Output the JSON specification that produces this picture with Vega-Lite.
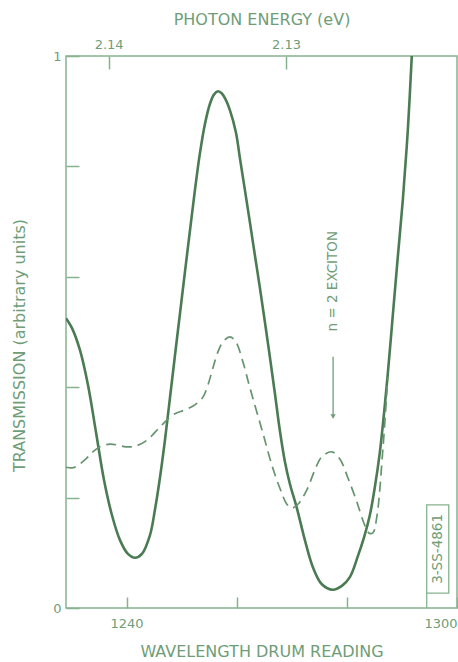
{
  "$schema": "https://vega.github.io/schema/vega-lite/v6.json",
  "width": 391,
  "height": 552,
  "autosize": {"type": "none"},
  "padding": {"left": 66, "top": 56, "right": 1, "bottom": 54},
  "background": "white",
  "config": {
    "view": {"stroke": "#86b38f", "strokeWidth": 1.5},
    "font": "DejaVu Sans",
    "axis": {
      "domain": false, "grid": false,
      "labelColor": "#6f9d78", "titleColor": "#6f9d78",
      "tickColor": "#86b38f", "tickWidth": 1.5,
      "labelFont": "DejaVu Sans", "titleFont": "DejaVu Sans",
      "labelFontSize": 13, "titleFontSize": 16, "titleFontWeight": "normal"
    }
  },
  "datasets": {
    "solid": [
      {"drum": 1229.0, "t": 0.525}, {"drum": 1230.09, "t": 0.507}, {"drum": 1231.54, "t": 0.467},
      {"drum": 1232.99, "t": 0.404}, {"drum": 1234.44, "t": 0.319}, {"drum": 1235.9, "t": 0.232},
      {"drum": 1237.35, "t": 0.168}, {"drum": 1238.8, "t": 0.123}, {"drum": 1240.25, "t": 0.098},
      {"drum": 1241.52, "t": 0.091}, {"drum": 1242.79, "t": 0.098}, {"drum": 1244.25, "t": 0.132},
      {"drum": 1245.15, "t": 0.178}, {"drum": 1246.06, "t": 0.236}, {"drum": 1246.97, "t": 0.304},
      {"drum": 1247.87, "t": 0.38}, {"drum": 1248.78, "t": 0.457}, {"drum": 1249.69, "t": 0.533},
      {"drum": 1250.6, "t": 0.609}, {"drum": 1251.5, "t": 0.683}, {"drum": 1252.41, "t": 0.757},
      {"drum": 1253.32, "t": 0.824}, {"drum": 1254.23, "t": 0.877}, {"drum": 1255.13, "t": 0.913},
      {"drum": 1255.86, "t": 0.93}, {"drum": 1256.59, "t": 0.936}, {"drum": 1257.31, "t": 0.932},
      {"drum": 1258.04, "t": 0.92}, {"drum": 1258.76, "t": 0.902}, {"drum": 1259.85, "t": 0.862},
      {"drum": 1260.58, "t": 0.815}, {"drum": 1261.49, "t": 0.757}, {"drum": 1262.39, "t": 0.699},
      {"drum": 1263.3, "t": 0.639}, {"drum": 1264.21, "t": 0.58}, {"drum": 1265.12, "t": 0.518},
      {"drum": 1266.02, "t": 0.455}, {"drum": 1266.93, "t": 0.389}, {"drum": 1267.84, "t": 0.321},
      {"drum": 1268.75, "t": 0.265}, {"drum": 1269.65, "t": 0.225}, {"drum": 1270.92, "t": 0.181},
      {"drum": 1272.38, "t": 0.123}, {"drum": 1273.83, "t": 0.074}, {"drum": 1275.46, "t": 0.043},
      {"drum": 1277.46, "t": 0.033}, {"drum": 1279.09, "t": 0.04}, {"drum": 1280.54, "t": 0.056},
      {"drum": 1282.0, "t": 0.094}, {"drum": 1283.09, "t": 0.127}, {"drum": 1284.17, "t": 0.168},
      {"drum": 1285.08, "t": 0.219}, {"drum": 1285.99, "t": 0.282}, {"drum": 1286.71, "t": 0.349},
      {"drum": 1287.44, "t": 0.425}, {"drum": 1288.35, "t": 0.531}, {"drum": 1289.25, "t": 0.636},
      {"drum": 1290.16, "t": 0.739}, {"drum": 1291.07, "t": 0.866}, {"drum": 1291.79, "t": 1.0}
    ],
    "dashed": [
      {"drum": 1229.0, "t": 0.255}, {"drum": 1230.27, "t": 0.254}, {"drum": 1231.54, "t": 0.261},
      {"drum": 1232.81, "t": 0.272}, {"drum": 1233.9, "t": 0.283}, {"drum": 1235.17, "t": 0.292},
      {"drum": 1236.99, "t": 0.297}, {"drum": 1238.44, "t": 0.295}, {"drum": 1239.89, "t": 0.292},
      {"drum": 1241.52, "t": 0.293}, {"drum": 1243.7, "t": 0.304}, {"drum": 1246.06, "t": 0.328},
      {"drum": 1248.42, "t": 0.35}, {"drum": 1250.6, "t": 0.359}, {"drum": 1252.41, "t": 0.368},
      {"drum": 1253.86, "t": 0.382}, {"drum": 1254.77, "t": 0.404}, {"drum": 1255.68, "t": 0.435},
      {"drum": 1256.59, "t": 0.464}, {"drum": 1257.49, "t": 0.482}, {"drum": 1258.76, "t": 0.491},
      {"drum": 1259.85, "t": 0.482}, {"drum": 1261.12, "t": 0.446}, {"drum": 1262.39, "t": 0.399},
      {"drum": 1264.75, "t": 0.317}, {"drum": 1266.38, "t": 0.259}, {"drum": 1267.84, "t": 0.217},
      {"drum": 1269.11, "t": 0.188}, {"drum": 1270.02, "t": 0.181}, {"drum": 1271.11, "t": 0.188},
      {"drum": 1272.74, "t": 0.214}, {"drum": 1274.19, "t": 0.25}, {"drum": 1275.46, "t": 0.274},
      {"drum": 1277.28, "t": 0.283}, {"drum": 1278.73, "t": 0.27}, {"drum": 1280.18, "t": 0.236},
      {"drum": 1281.82, "t": 0.192}, {"drum": 1283.09, "t": 0.154}, {"drum": 1283.99, "t": 0.136},
      {"drum": 1284.72, "t": 0.136}, {"drum": 1285.44, "t": 0.165}, {"drum": 1286.53, "t": 0.286},
      {"drum": 1287.44, "t": 0.418}
    ],
    "notes": [{"exciton": "n = 2 EXCITON", "stamp": "3-SS-4861"}]
  },
  "layer": [
    {
      "data": {"name": "solid"},
      "mark": {"type": "line", "color": "#4b7b53", "strokeWidth": 2.6, "interpolate": "catmull-rom", "clip": true},
      "encoding": {
        "x": {
          "field": "drum", "type": "quantitative",
          "scale": {"domain": [1229, 1300], "nice": false, "zero": false},
          "axis": {
            "orient": "bottom", "values": [1240, 1260, 1280, 1300],
            "labelExpr": "datum.value == 1240 || datum.value == 1300 ? datum.label : ''",
            "format": "d", "tickSize": -11, "labelPadding": 20, "labelFlush": true,
            "title": "WAVELENGTH  DRUM  READING", "titlePadding": 13
          }
        },
        "y": {
          "field": "t", "type": "quantitative",
          "scale": {"domain": [0, 1], "nice": false, "zero": false},
          "axis": {
            "values": [0, 0.2, 0.4, 0.6, 0.8, 1],
            "labelExpr": "datum.value == 0 ? '0' : (datum.value == 1 ? '1' : '')",
            "tickSize": -13, "labelPadding": 18,
            "title": "TRANSMISSION (arbitrary units)", "titlePadding": 25, "titleY": 289
          }
        }
      }
    },
    {
      "data": {"name": "dashed"},
      "mark": {"type": "line", "color": "#67946f", "strokeWidth": 1.7, "strokeDash": [10, 6], "interpolate": "catmull-rom", "clip": true},
      "encoding": {
        "x": {
          "field": "drum", "type": "quantitative",
          "axis": {
            "orient": "top", "values": [1236.74, 1268.96],
            "labelExpr": "datum.value < 1250 ? '2.14' : '2.13'",
            "tickSize": -13, "labelPadding": 18,
            "title": "PHOTON ENERGY (eV)", "titlePadding": 11
          }
        },
        "y": {"field": "t", "type": "quantitative", "axis": null}
      }
    },
    {
      "data": {"name": "notes"},
      "mark": {"type": "text", "angle": 270, "fontSize": 13.5, "color": "#6f9d78", "font": "DejaVu Sans"},
      "encoding": {
        "x": {"datum": 1277.5, "type": "quantitative", "axis": null},
        "y": {"datum": 0.592, "type": "quantitative", "axis": null},
        "text": {"field": "exciton"}
      }
    },
    {
      "data": {"name": "notes"},
      "mark": {"type": "rule", "color": "#6f9d78", "strokeWidth": 1.3},
      "encoding": {
        "x": {"datum": 1277.5, "type": "quantitative", "axis": null},
        "y": {"datum": 0.455, "type": "quantitative", "axis": null},
        "y2": {"datum": 0.345}
      }
    },
    {
      "data": {"name": "notes"},
      "mark": {"type": "point", "shape": "triangle-down", "filled": true, "size": 28, "color": "#6f9d78", "opacity": 1},
      "encoding": {
        "x": {"datum": 1277.5, "type": "quantitative", "axis": null},
        "y": {"datum": 0.347, "type": "quantitative", "axis": null}
      }
    },
    {
      "data": {"name": "notes"},
      "mark": {"type": "rect", "fill": null, "fillOpacity": 0, "stroke": "#86b38f", "strokeWidth": 1.3},
      "encoding": {
        "x": {"datum": 1294.5, "type": "quantitative", "axis": null},
        "x2": {"datum": 1298.5},
        "y": {"datum": 0.187, "type": "quantitative", "axis": null},
        "y2": {"datum": 0.027}
      }
    },
    {
      "data": {"name": "notes"},
      "mark": {"type": "rule", "color": "#86b38f", "strokeWidth": 1.3},
      "encoding": {
        "x": {"datum": 1294.5, "type": "quantitative", "axis": null},
        "y": {"datum": 0.027, "type": "quantitative", "axis": null},
        "y2": {"datum": 0}
      }
    },
    {
      "data": {"name": "notes"},
      "mark": {"type": "text", "angle": 270, "fontSize": 13.5, "color": "#6f9d78", "font": "DejaVu Sans"},
      "encoding": {
        "x": {"datum": 1296.5, "type": "quantitative", "axis": null},
        "y": {"datum": 0.107, "type": "quantitative", "axis": null},
        "text": {"field": "stamp"}
      }
    }
  ],
  "resolve": {"axis": {"x": "independent", "y": "independent"}}
}
